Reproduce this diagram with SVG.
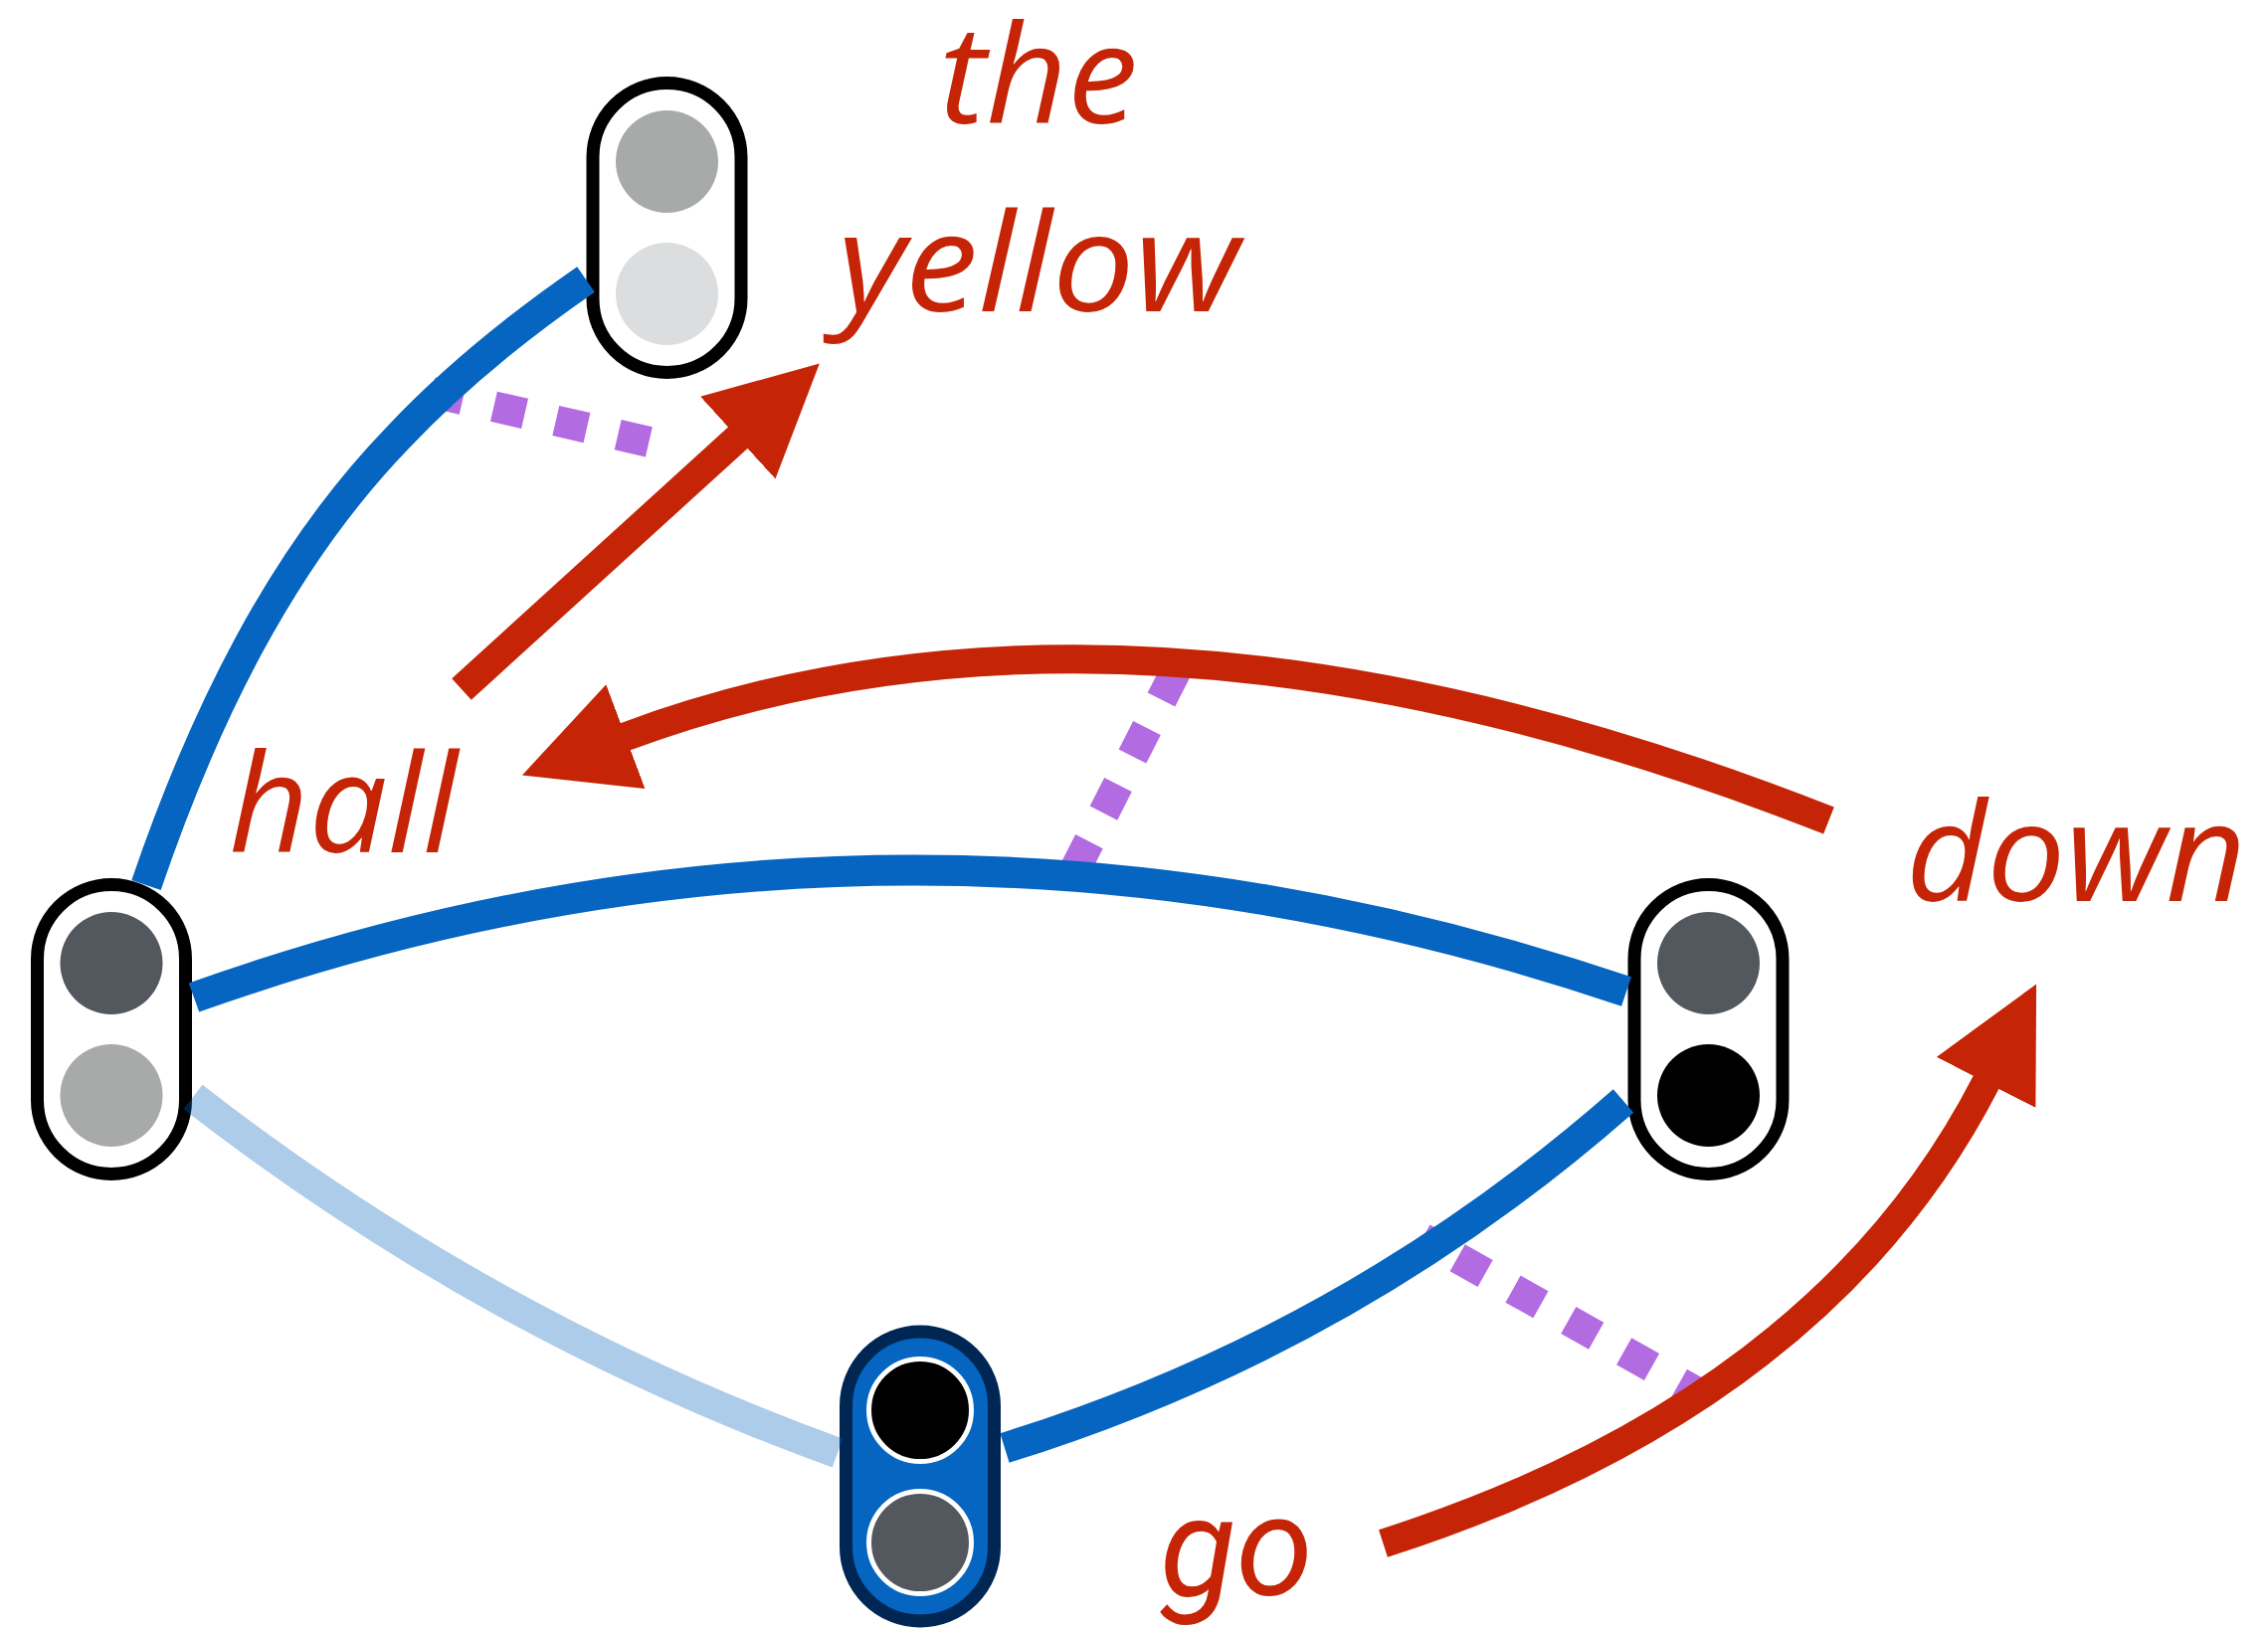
<svg xmlns="http://www.w3.org/2000/svg" width="2280" height="1641" viewBox="0 0 2280 1641">
<defs>
<style>
.pill{fill:#ffffff;stroke:#000000;stroke-width:13}
.pillsel{fill:#0565c0;stroke:#002654;stroke-width:13}
.blue{fill:none;stroke:#0565c0;stroke-width:31}
.faint{fill:none;stroke:#0565c0;stroke-opacity:0.33;stroke-width:31}
.red{fill:none;stroke:#c52506;stroke-width:29}
.dots{fill:none;stroke:#b36be2;stroke-width:31;stroke-dasharray:32 32}
.lbl{font-family:"Open Sans","Noto Sans",sans-serif;font-style:italic;font-size:138px;fill:#c52506}
.lbl2{font-family:Roboto,"Open Sans",sans-serif;font-style:italic;font-size:140px;fill:#c52506}
.ring{stroke:#ffffff;stroke-width:5}
</style>
<marker id="ah" markerUnits="userSpaceOnUse" viewBox="0 0 112 112" markerWidth="112" markerHeight="112" refX="1" refY="56" orient="auto">
<path d="M0,0 L111,56 L0,112 Z" fill="#c52506"/>
</marker>
</defs>
<rect width="2280" height="1641" fill="#ffffff"/>
<g id="node-top">
<rect class="pill" x="596" y="83.5" width="149" height="291" rx="74.5"/>
<circle cx="670.5" cy="162.5" r="51.5" fill="#a7aaa9"/>
<circle cx="670.5" cy="295.5" r="51.5" fill="#dcdddf"/>
</g>
<g id="node-left">
<rect class="pill" x="37.5" y="889.5" width="149" height="291" rx="74.5"/>
<circle cx="112" cy="968.5" r="51.5" fill="#53575e"/>
<circle cx="112" cy="1101.5" r="51.5" fill="#a7aaa9"/>
</g>
<g id="node-right">
<rect class="pill" x="1643" y="889.5" width="149" height="291" rx="74.5"/>
<circle cx="1717.5" cy="968.5" r="51.5" fill="#53575e"/>
<circle cx="1717.5" cy="1101.5" r="51.5" fill="#000000"/>
</g>
<g id="node-bottom">
<rect class="pillsel" x="850.5" y="1339" width="149" height="291" rx="74.5"/>
<circle class="ring" cx="925" cy="1418" r="51.5" fill="#000000"/>
<circle class="ring" cx="925" cy="1551" r="51.5" fill="#53575e"/>
</g>
<g id="connectors">
<path class="dots" d="M434,394.5 L653,444.5"/>
<path class="dots" d="M1182,675 L1080.5,874.6"/>
<path class="dots" d="M1430,1245 L1713,1404" stroke-dashoffset="23.6"/>
<path class="blue" d="M147,890 C203,726 280,564 400,440 C456,380.5 521,328 589,281"/>
<path class="blue" d="M195,1003 Q905,750 1635,997"/>
<path class="faint" d="M194,1103 Q491,1334 842,1461"/>
<path class="blue" d="M1010,1456 Q1358,1348 1632,1107"/>
<path class="red" d="M464,693 L742.5,439.5" marker-end="url(#ah)"/>
<path class="red" d="M1838.5,825 Q1140,550 628,741" marker-end="url(#ah)"/>
<path class="red" d="M1390.5,1552 Q1832,1410 1997,1087.5" marker-end="url(#ah)"/>
</g>
<g id="labels">
<text class="lbl" x="944" y="124" textLength="200" lengthAdjust="spacingAndGlyphs">the</text>
<text class="lbl" x="842" y="313" textLength="404" lengthAdjust="spacingAndGlyphs">yellow</text>
<text class="lbl" x="230" y="857" textLength="230" lengthAdjust="spacingAndGlyphs">hall</text>
<text class="lbl" x="1916" y="906" textLength="342" lengthAdjust="spacingAndGlyphs">down</text>
<text class="lbl2" x="1166" y="1604" textLength="154" lengthAdjust="spacingAndGlyphs">go</text>
</g>
</svg>
